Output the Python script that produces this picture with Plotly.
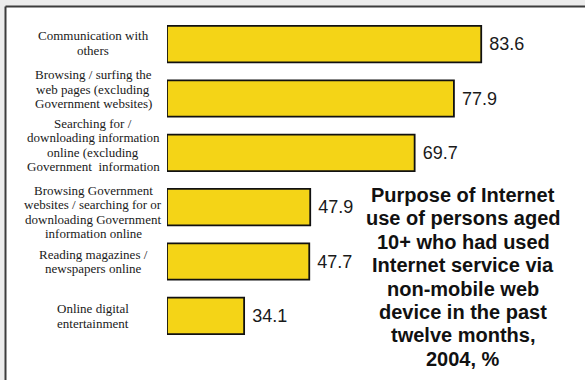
import plotly.graph_objects as go

# Purpose of Internet use, persons aged 10+, 2004 (%)
category_lines = [
    ["Communication with", "others"],
    ["Browsing / surfing the", "web pages (excluding", "Government websites)"],
    ["Searching for /", "downloading information", "online (excluding", "Government  information"],
    ["Browsing Government", "websites / searching for or", "downloading Government", "information online"],
    ["Reading magazines /", "newspapers online"],
    ["Online digital", "entertainment"],
]
values = [83.6, 77.9, 69.7, 47.9, 47.7, 34.1]
title_lines = [
    "Purpose of Internet",
    "use of persons aged",
    "10+ who had used",
    "Internet service via",
    "non-mobile web",
    "device in the past",
    "twelve months,",
    "2004, %",
]

categories = [" ".join(lines) for lines in category_lines]

# ---- layout geometry (pixels) ----
W, H = 585, 380
M_L, M_R, M_T, M_B = 167, 0, 17, 37
PLOT_W = W - M_L - M_R
PLOT_H = H - M_T - M_B
AXIS_START = 18.0          # bars are drawn from this baseline
PX_PER_UNIT = 4.79
AXIS_END = AXIS_START + PLOT_W / PX_PER_UNIT

BAR_COLOR = "#F4D417"
TEXT_COLOR = "#1a1a1a"
PAGE_GREY = "#ececec"
FRAME_COLOR = "#3c3c3c"
LABEL_CENTER_PX = 93
LABEL_FONT = 13
LABEL_LINE_PX = 14.4
LABEL_SHIFT_PX = [1, 9.5, 8, -5, 0, 0]   # upward nudges of each label block
TITLE_CENTER_PX = 463
TITLE_FIRST_PX = 195
TITLE_LINE_PX = 23.4


def px_to_paper_x(px):
    return (px - M_L) / PLOT_W


def px_to_paper_y(py):
    return (H - M_B - py) / PLOT_H


fig = go.Figure()
fig.add_trace(go.Bar(
    y=categories,
    x=[v - AXIS_START for v in values],
    base=AXIS_START,
    orientation="h",
    marker=dict(color=BAR_COLOR, line=dict(color="#111111", width=1.8)),
    text=[f" {v:.1f}" for v in values],
    textposition="outside",
    textfont=dict(family="Liberation Sans, Arial, sans-serif", size=18, color=TEXT_COLOR),
    cliponaxis=False,
    hoverinfo="skip",
))

annotations = []
# category labels, one annotation per line for controlled leading
for i, lines in enumerate(category_lines):
    n = len(lines)
    for j, line in enumerate(lines):
        annotations.append(dict(
            xref="paper", yref="y",
            x=px_to_paper_x(LABEL_CENTER_PX), y=i,
            xanchor="center", yanchor="middle",
            yshift=-(j - (n - 1) / 2) * LABEL_LINE_PX + LABEL_SHIFT_PX[i],
            text=line, showarrow=False, borderpad=0,
            font=dict(family="Liberation Serif, Times New Roman, serif", size=LABEL_FONT, color=TEXT_COLOR),
        ))

# chart caption block
for k, line in enumerate(title_lines):
    annotations.append(dict(
        xref="paper", yref="paper",
        x=px_to_paper_x(TITLE_CENTER_PX),
        y=px_to_paper_y(TITLE_FIRST_PX + k * TITLE_LINE_PX),
        xanchor="center", yanchor="middle",
        text=f"<b>{line}</b>", showarrow=False, borderpad=0,
        font=dict(family="Liberation Sans, Arial, sans-serif", size=20, color="#111111"),
    ))

# grey page strips along the top and left, then the panel's frame edges
FRAME_X, FRAME_Y = 5.5, 6.5
shapes = [
    dict(type="rect", xref="paper", yref="paper", layer="below",
         x0=px_to_paper_x(-10), x1=px_to_paper_x(W + 10),
         y0=px_to_paper_y(FRAME_Y), y1=px_to_paper_y(-10),
         fillcolor=PAGE_GREY, line=dict(width=0)),
    dict(type="rect", xref="paper", yref="paper", layer="below",
         x0=px_to_paper_x(-10), x1=px_to_paper_x(FRAME_X),
         y0=px_to_paper_y(H + 10), y1=px_to_paper_y(-10),
         fillcolor=PAGE_GREY, line=dict(width=0)),
    dict(type="line", xref="paper", yref="paper", layer="below",
         x0=px_to_paper_x(FRAME_X), x1=px_to_paper_x(W + 10),
         y0=px_to_paper_y(FRAME_Y), y1=px_to_paper_y(FRAME_Y),
         line=dict(color=FRAME_COLOR, width=2)),
    dict(type="line", xref="paper", yref="paper", layer="below",
         x0=px_to_paper_x(FRAME_X), x1=px_to_paper_x(FRAME_X),
         y0=px_to_paper_y(FRAME_Y), y1=px_to_paper_y(H + 10),
         line=dict(color=FRAME_COLOR, width=2)),
]

fig.update_layout(
    width=W, height=H,
    margin=dict(l=M_L, r=M_R, t=M_T, b=M_B, pad=0),
    paper_bgcolor="white",
    plot_bgcolor="rgba(0,0,0,0)",
    showlegend=False,
    bargap=0.33,
    xaxis=dict(range=[AXIS_START, AXIS_END], visible=False, fixedrange=True),
    yaxis=dict(type="category", categoryorder="array", categoryarray=categories,
               range=[len(categories) - 0.5, -0.5], visible=False, fixedrange=True),
    annotations=annotations,
    shapes=shapes,
)

fig.write_html(
    "out.html",
    config={"displayModeBar": False},
    post_script="document.documentElement.style.overflow='hidden';document.body.style.margin='0';document.body.style.overflow='hidden';",
)
